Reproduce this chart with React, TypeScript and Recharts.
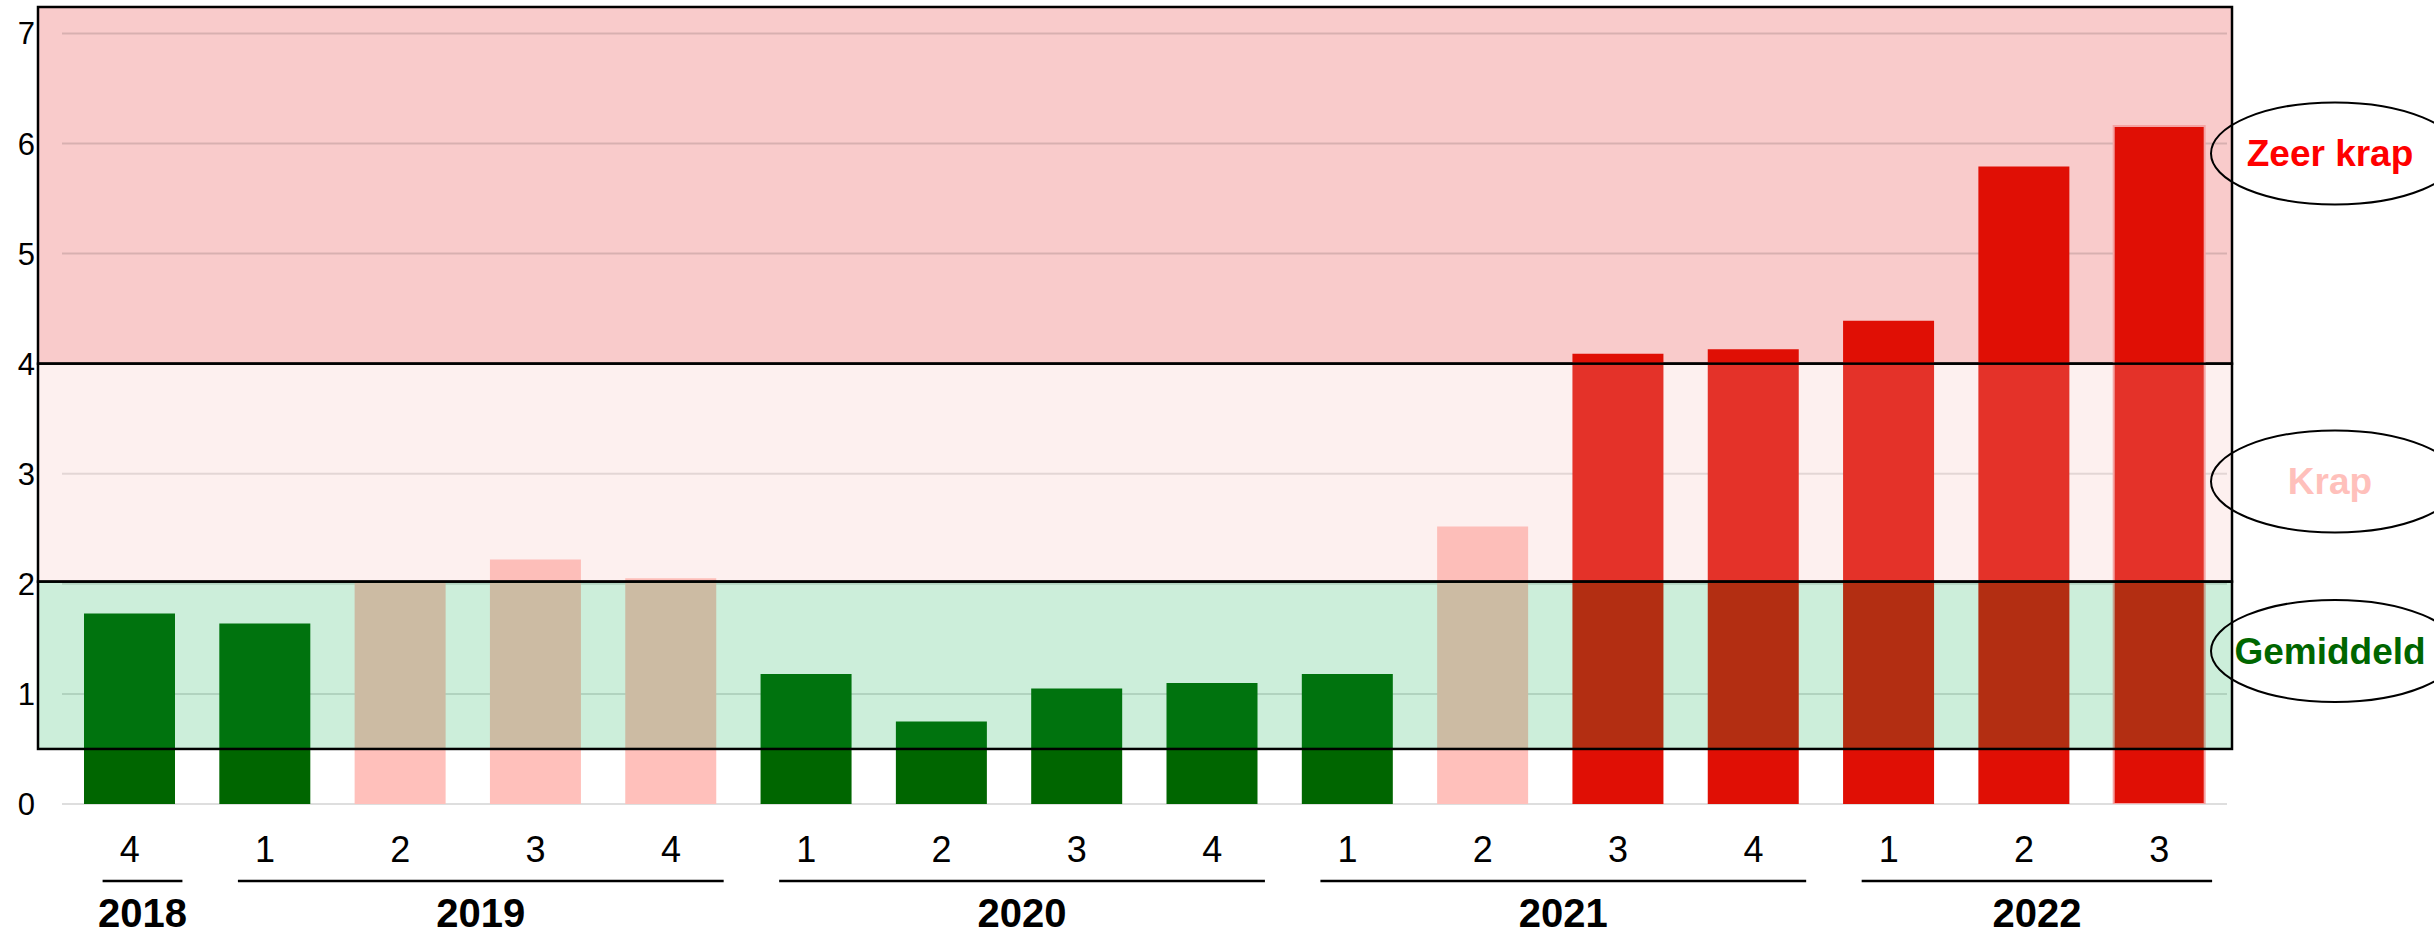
import React from "react";
import { BarChart, Bar, Cell, XAxis, YAxis, CartesianGrid, ReferenceArea } from "recharts";

// krapte-indicator per kwartaal
const quarters = ["4", "1", "2", "3", "4", "1", "2", "3", "4", "1", "2", "3", "4", "1", "2", "3"];
const years = ["2018", "2019", "2019", "2019", "2019", "2020", "2020", "2020", "2020", "2021", "2021", "2021", "2021", "2022", "2022", "2022"];
const tightness = [1.73, 1.64, 2.02, 2.22, 2.05, 1.18, 0.75, 1.05, 1.1, 1.18, 2.52, 4.09, 4.13, 4.39, 5.79, 6.16];
const levels = ["gem", "gem", "krap", "krap", "krap", "gem", "gem", "gem", "gem", "gem", "krap", "zeer", "zeer", "zeer", "zeer", "zeer"];
const yTicks = [0, 1, 2, 3, 4, 5, 6, 7];

// bands: [from, to]
const zeerKrapBand = [4, 7.24];
const krapBand = [2.02, 4];
const gemBand = [0.5, 2.02];

const LEVEL_COLORS: Record<string, string> = {
  gem: "#006600",
  krap: "#FFC0BB",
  zeer: "#E00F05",
};

const W = 2434;
const H = 935;
const M = { top: 7, right: 207, bottom: 1, left: 0 };
const Y_W = 62;
const X_H = 130;
const PLOT_W = W - M.left - M.right - Y_W;
const STEP = PLOT_W / quarters.length;
const FONT = "'Liberation Sans', Arial, sans-serif";

const data = quarters.map((q, i) => ({ key: `${years[i]}-${q}-${i}`, value: tightness[i] }));

function ValueTick(props: any) {
  const { x, y, payload } = props;
  return (
    <text x={x} y={y + 11} textAnchor="end" fontSize={31} fontFamily={FONT} fill="#000">
      {payload.value}
    </text>
  );
}

function QuarterTick(props: any) {
  const { x, y, payload } = props;
  const i = payload?.index ?? props.index;
  const first = i === 0 || years[i] !== years[i - 1];
  let last = i;
  while (last + 1 < years.length && years[last + 1] === years[i]) last++;
  const x1 = x - 0.2 * STEP;
  const x2 = x + (last - i) * STEP + 0.39 * STEP;

  return (
    <g>
      <text x={x} y={y + 58} textAnchor="middle" fontSize={36} fontFamily={FONT} fill="#000">
        {quarters[i]}
      </text>
      {first && (
        <>
          <line x1={x1} x2={x2} y1={y + 77} y2={y + 77} stroke="#000" strokeWidth={2.5} />
          <text
            x={(x1 + x2) / 2}
            y={y + 123}
            textAnchor="middle"
            fontSize={40}
            fontWeight="bold"
            fontFamily={FONT}
            fill="#000"
          >
            {years[i]}
          </text>
        </>
      )}
    </g>
  );
}

function bandShape(
  fill: string,
  opacity: number,
  range: number[],
  label: string,
  labelColor: string,
  labelAt: number
) {
  return (p: any) => {
    const { x, y, width, height } = p;
    const cy = y + ((range[1] - labelAt) / (range[1] - range[0])) * height;
    const cx = x + width + 108;
    return (
      <g>
        <rect
          x={x - 24}
          y={y}
          width={width + 29}
          height={height}
          fill={fill}
          fillOpacity={opacity}
          stroke="#000"
          strokeWidth={2.5}
        />
        <ellipse cx={cx} cy={cy} rx={124} ry={51} fill="none" stroke="#000" strokeWidth={2} />
        <text
          x={cx - 5}
          y={cy + 13}
          textAnchor="middle"
          fontSize={37}
          fontWeight="bold"
          fontFamily={FONT}
          fill={labelColor}
        >
          {label}
        </text>
      </g>
    );
  };
}

export default function App() {
  return (
    <div style={{ position: "absolute", left: 0, top: 0, width: W, height: H, background: "#fff" }}>
      <BarChart width={W} height={H} data={data} margin={M} barSize={91}>
        <ReferenceArea
          y1={zeerKrapBand[0]}
          y2={zeerKrapBand[1]}
          ifOverflow="visible"
          zIndex={-150}
          shape={bandShape("#F9CBCB", 1, zeerKrapBand, "Zeer krap", "#FF0000", 5.91)}
        />
        <CartesianGrid vertical={false} stroke="#000" strokeOpacity={0.13} strokeWidth={2} />
        <XAxis
          dataKey="key"
          height={X_H}
          axisLine={false}
          tickLine={false}
          tickSize={0}
          tickMargin={0}
          interval={0}
          tick={<QuarterTick />}
        />
        <YAxis
          width={Y_W}
          domain={[0, zeerKrapBand[1]]}
          ticks={yTicks}
          allowDataOverflow
          axisLine={false}
          tickLine={false}
          tickSize={0}
          tickMargin={27}
          tick={<ValueTick />}
        />
        <Bar dataKey="value" isAnimationActive={false}>
          {data.map((d, i) => (
            <Cell
              key={d.key}
              fill={LEVEL_COLORS[levels[i]]}
              stroke={i === data.length - 1 ? "#F4A3A3" : "none"}
              strokeWidth={i === data.length - 1 ? 2 : 0}
            />
          ))}
        </Bar>
        <ReferenceArea
          y1={krapBand[0]}
          y2={krapBand[1]}
          ifOverflow="visible"
          zIndex={350}
          shape={bandShape("#F4B6B2", 0.21, krapBand, "Krap", "#FFC0BB", 2.93)}
        />
        <ReferenceArea
          y1={gemBand[0]}
          y2={gemBand[1]}
          ifOverflow="visible"
          zIndex={360}
          shape={bandShape("#00AA46", 0.2, gemBand, "Gemiddeld", "#006600", 1.39)}
        />
      </BarChart>
    </div>
  );
}
